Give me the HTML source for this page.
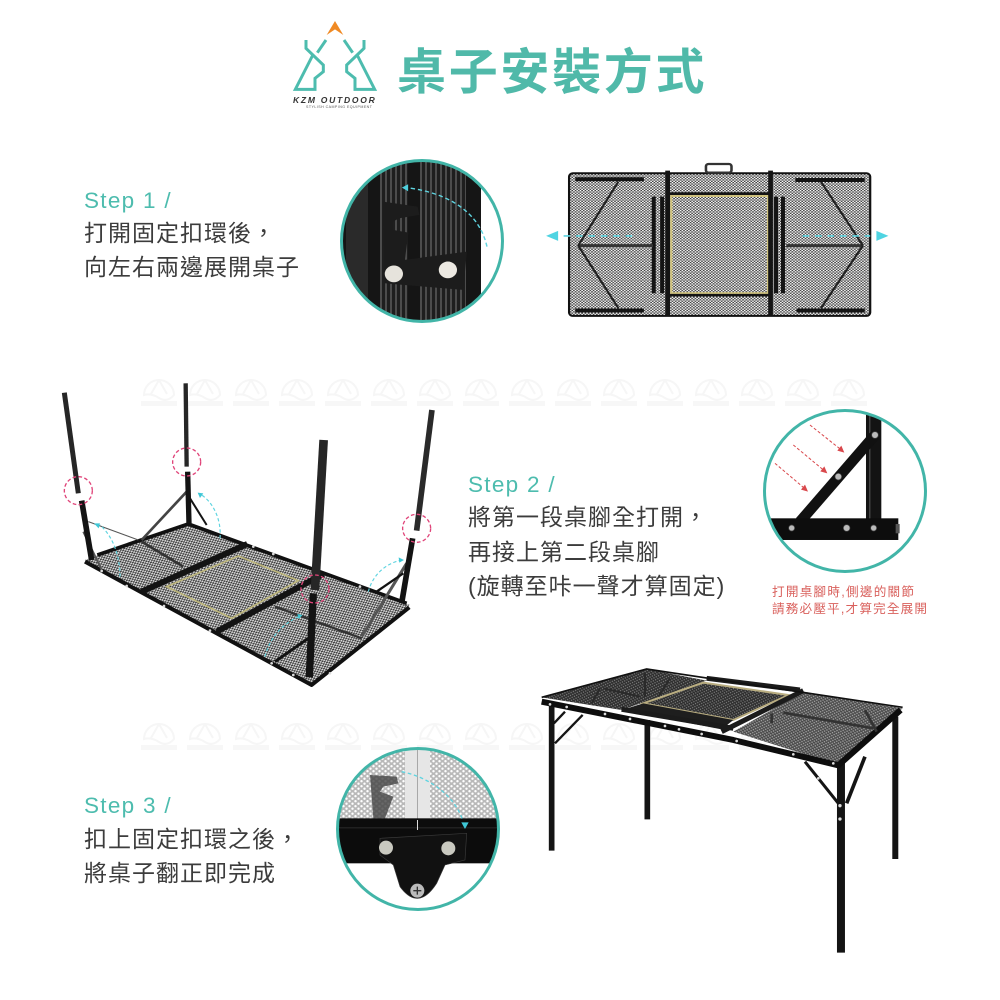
<!DOCTYPE html>
<html lang="zh-Hant"><head><meta charset="utf-8">
<style>
html,body{margin:0;padding:0;background:#fff;width:1000px;height:1000px;overflow:hidden}
svg{display:block}
.t{font-family:"Liberation Sans","Noto Sans CJK TC",sans-serif;font-size:23px;letter-spacing:1px;fill:#3c3c3c}
.s{font-family:"Liberation Sans","Noto Sans CJK TC",sans-serif;font-size:22.5px;letter-spacing:1.3px;fill:#4dbcae}
.r{font-family:"Liberation Sans","Noto Sans CJK TC",sans-serif;font-size:12.6px;fill:#d9605c}
</style></head><body>
<svg width="1000" height="1000" viewBox="0 0 1000 1000" xmlns="http://www.w3.org/2000/svg">
<defs>
<pattern id="m1" width="9" height="8" patternUnits="userSpaceOnUse"><rect width="9" height="8" fill="#3a3a3a"/><circle cx="2.2" cy="2" r="2.5" fill="#fff"/><circle cx="6.7" cy="6" r="2.5" fill="#fff"/></pattern>
<pattern id="m2" width="11" height="9" patternUnits="userSpaceOnUse" patternTransform="rotate(-25)"><rect width="11" height="9" fill="#333"/><circle cx="3" cy="2.2" r="3" fill="#dcdcdc"/><circle cx="8.5" cy="6.7" r="3" fill="#dcdcdc"/></pattern>
<pattern id="m3" width="12" height="9" patternUnits="userSpaceOnUse" patternTransform="rotate(12)"><rect width="12" height="9" fill="#2e2e2e"/><circle cx="3" cy="2.2" r="1.9" fill="#8a8a8a"/><circle cx="9" cy="6.7" r="1.9" fill="#8a8a8a"/></pattern>
<pattern id="m4" width="12" height="9" patternUnits="userSpaceOnUse" patternTransform="rotate(12)"><rect width="12" height="9" fill="#4a4a4a"/><circle cx="3" cy="2.2" r="2.2" fill="#a8a8a8"/><circle cx="9" cy="6.7" r="2.2" fill="#a8a8a8"/></pattern>
<pattern id="m5" width="18" height="15" patternUnits="userSpaceOnUse"><rect width="18" height="15" fill="#b9b9b9"/><circle cx="4.5" cy="3.7" r="3.6" fill="#fff"/><circle cx="13.5" cy="11.2" r="3.6" fill="#fff"/></pattern>
<pattern id="rib" width="5" height="10" patternUnits="userSpaceOnUse"><rect width="5" height="10" fill="#1e1e1e"/><rect width="2" height="10" fill="#4c4c4c"/></pattern>
<clipPath id="c1"><circle cx="422" cy="241" r="80"/></clipPath>
<clipPath id="c2"><circle cx="845" cy="491" r="80"/></clipPath>
<clipPath id="c3"><circle cx="418" cy="829" r="80"/></clipPath>
<g id="wm" fill="none" stroke="#f6f6f6" stroke-width="2"><path d="M3,17 a13,13 0 1 1 30,0 q-7,8 -15,3 q-8,-5 -15,-3z"/><path d="M18,2 L10,16 M18,2 L26,16"/><rect x="0" y="23" width="36" height="5" fill="#f7f7f7" stroke="none"/></g>
</defs>

<!-- watermarks -->
<g>
<use href="#wm" x="141" y="378"/><use href="#wm" x="187" y="378"/><use href="#wm" x="233" y="378"/><use href="#wm" x="279" y="378"/><use href="#wm" x="325" y="378"/><use href="#wm" x="371" y="378"/><use href="#wm" x="417" y="378"/><use href="#wm" x="463" y="378"/><use href="#wm" x="509" y="378"/><use href="#wm" x="555" y="378"/><use href="#wm" x="601" y="378"/><use href="#wm" x="647" y="378"/><use href="#wm" x="693" y="378"/><use href="#wm" x="739" y="378"/><use href="#wm" x="785" y="378"/><use href="#wm" x="831" y="378"/>
<use href="#wm" x="141" y="722"/><use href="#wm" x="187" y="722"/><use href="#wm" x="233" y="722"/><use href="#wm" x="279" y="722"/><use href="#wm" x="325" y="722"/><use href="#wm" x="371" y="722"/><use href="#wm" x="417" y="722"/><use href="#wm" x="463" y="722"/><use href="#wm" x="509" y="722"/><use href="#wm" x="555" y="722"/><use href="#wm" x="601" y="722"/><use href="#wm" x="647" y="722"/><use href="#wm" x="693" y="722"/><use href="#wm" x="739" y="722"/><use href="#wm" x="785" y="722"/>
</g>

<!-- logo + title -->
<g transform="translate(280,10) scale(.3333)">
<polygon points="165,33 190,75 165,58 140,75" fill="#f08a24"/>
<g fill="none" stroke="#4dbcae" stroke-width="9" stroke-linejoin="miter">
<path d="M100,132 L46,238 L105,238 L105,205 L130,185 L130,165 L78,115 L78,90"/>
<path d="M138,90 L112,128"/>
<path d="M230,132 L284,238 L225,238 L225,205 L200,185 L200,165 L252,115 L252,90"/>
<path d="M192,90 L218,128"/>
</g>
</g>
<text x="293" y="103" font-family="Liberation Sans,sans-serif" font-size="8.5" font-weight="bold" font-style="italic" letter-spacing="1.75" fill="#333">KZM OUTDOOR</text>
<text x="306" y="108" font-family="Liberation Sans,sans-serif" font-size="3.6" letter-spacing=".45" fill="#555">STYLISH CAMPING EQUIPMENT</text>
<text x="397" y="89" font-family="'Noto Sans CJK TC',sans-serif" font-weight="bold" font-size="49" letter-spacing="2.7" fill="#50b9a9">桌子安裝方式</text>

<!-- step text -->
<text class="s" x="84" y="208">Step 1 /</text>
<text class="t" x="84" y="241">打開固定扣環後，</text>
<text class="t" x="84" y="275">向左右兩邊展開桌子</text>
<text class="s" x="468" y="492">Step 2 /</text>
<text class="t" x="468" y="525">將第一段桌腳全打開，</text>
<text class="t" x="468" y="560">再接上第二段桌腳</text>
<text class="t" x="468" y="594">(旋轉至咔一聲才算固定)</text>
<text class="s" x="84" y="813">Step 3 /</text>
<text class="t" x="84" y="847">扣上固定扣環之後，</text>
<text class="t" x="84" y="881">將桌子翻正即完成</text>
<text class="r" x="772" y="596" textLength="142">打開桌腳時,側邊的關節</text>
<text class="r" x="772" y="613" textLength="155">請務必壓平,才算完全展開</text>

<!-- circle 1 -->
<g clip-path="url(#c1)">
<rect x="341" y="160" width="140" height="162" fill="#151515"/>
<rect x="380" y="160" width="28" height="162" fill="url(#rib)"/>
<rect x="420" y="160" width="46" height="162" fill="url(#rib)"/>
<rect x="346" y="160" width="22" height="162" fill="#2a2a2a"/>
<g transform="translate(330,150) scale(.365,.333)">
<path d="M145,155 L240,170 245,195 190,205 172,215 172,240 215,248 205,330 375,305 365,420 L200,405 150,400z" fill="#1c1c1c"/>
<circle cx="175" cy="372" r="25" fill="#e6e3dc"/><circle cx="323" cy="360" r="25" fill="#ece9e2"/>
<path d="M430,290 C410,190 330,130 210,113" fill="none" stroke="#5fd4e0" stroke-width="4" stroke-dasharray="12 8"/>
<polygon points="197,113 214,103 214,124" fill="#4fd0de"/>
</g>
</g>
<circle cx="422" cy="241" r="80.5" fill="none" stroke="#42b5a8" stroke-width="3"/>

<!-- top view table -->
<g transform="translate(330,150) scale(.365,.333)">
<rect x="655" y="70" width="825" height="428" rx="10" fill="url(#m1)" stroke="#111" stroke-width="6"/>
<rect x="1030" y="42" width="70" height="26" rx="7" fill="none" stroke="#333" stroke-width="7"/>
<rect x="935" y="138" width="265" height="292" fill="url(#m1)" stroke="#cfc27e" stroke-width="6"/>
<g stroke="#141414" fill="none">
<path d="M925,62 V500 M1207,62 V500" stroke-width="13"/>
<path d="M925,131 H1207 M925,436 H1207" stroke-width="8"/>
<path d="M887,140 V430 M910,140 V430 M1222,140 V430 M1241,140 V430" stroke-width="11"/>
<path d="M680,287 H885 M1250,287 H1460" stroke-width="9" stroke="#333"/>
<path d="M680,287 L790,95 M680,287 L790,475 M1460,287 L1345,95 M1460,287 L1345,475" stroke-width="6" stroke="#222"/>
<path d="M672,88 H860 M1275,90 H1465 M672,482 H860 M1278,482 H1465" stroke-width="12"/>
</g>
<path d="M640,258 H830 M1295,258 H1480" stroke="#5fd4e0" stroke-width="5" stroke-dasharray="18 16"/>
<polygon points="592,258 625,243 625,273" fill="#4fd4e2"/>
<polygon points="1530,258 1497,243 1497,273" fill="#4fd4e2"/>
</g>

<!-- flipped table -->
<g transform="translate(40,370) scale(.3333)">
<polygon points="135,570 445,458 1110,705 815,950" fill="url(#m2)"/>
<polygon points="380,650 595,558 775,632 575,745" fill="url(#m2)" stroke="#bdb67c" stroke-width="5"/>
<path d="M135,575 L815,945 L1108,712" fill="none" stroke="#111" stroke-width="12" stroke-linejoin="round"/>
<path d="M172,555 L445,462 L1100,700" fill="none" stroke="#111" stroke-width="11"/>
<g stroke="#131313" fill="none">
<path d="M305,665 L622,522" stroke-width="18"/>
<path d="M530,785 L850,612" stroke-width="18"/>
<path d="M305,515 L430,590" stroke-width="8" stroke="#333"/>
<path d="M705,710 L965,805" stroke-width="7" stroke="#333"/>
<path d="M705,875 L805,805" stroke-width="9"/>
<path d="M305,510 L440,365" stroke-width="8" stroke="#444"/>
<path d="M450,385 L500,465" stroke-width="6"/>
<path d="M145,455 L295,510" stroke-width="3" stroke="#555"/>
<path d="M130,485 L185,600" stroke-width="6" stroke="#555"/>
<path d="M965,800 L1100,580" stroke-width="9" stroke="#555"/>
<path d="M1010,665 L1090,610" stroke-width="7"/>
<path d="M73,68 L115,370" stroke-width="15" stroke="#262626"/>
<path d="M125,392 L155,570" stroke-width="17"/>
<path d="M437,40 L440,290" stroke-width="13" stroke="#262626"/>
<path d="M443,305 L447,460" stroke-width="16"/>
<path d="M851,210 L825,660" stroke-width="26" stroke="#262626"/>
<path d="M820,670 L808,922" stroke-width="22"/>
<path d="M1176,120 L1130,482" stroke-width="17" stroke="#2a2a2a"/>
<path d="M1118,505 L1085,700" stroke-width="17"/>
</g>
<g fill="#ddd"><circle cx="185" cy="603" r="4"/><circle cx="260" cy="648" r="4"/><circle cx="372" cy="708" r="4"/><circle cx="510" cy="782" r="4"/><circle cx="695" cy="880" r="4"/><circle cx="760" cy="915" r="4"/><circle cx="870" cy="910" r="4"/><circle cx="640" cy="530" r="4"/><circle cx="700" cy="552" r="4"/><circle cx="960" cy="650" r="4"/></g>
<g fill="none" stroke="#e0457a" stroke-width="4" stroke-dasharray="11 7">
<circle cx="115" cy="362" r="42"/><circle cx="440" cy="276" r="42"/><circle cx="825" cy="657" r="42"/><circle cx="1130" cy="475" r="42"/>
</g>
<g fill="none" stroke="#5fd4e0" stroke-width="3.5" stroke-dasharray="10 7">
<path d="M240,620 C240,560 220,500 180,465"/>
<path d="M540,505 C545,450 520,395 480,372"/>
<path d="M985,665 C1000,610 1040,580 1085,570"/>
<path d="M675,860 C690,800 730,760 780,738"/>
</g>
<g fill="#3fc7d6"><polygon points="162,460 180,460 176,475"/><polygon points="473,368 490,370 480,384"/><polygon points="1092,570 1076,562 1078,578"/><polygon points="788,735 772,732 776,747"/></g>
</g>

<!-- circle 2 -->
<g clip-path="url(#c2)"><g transform="translate(750,400) scale(.3333)">
<rect x="348" y="35" width="46" height="325" fill="#131313"/>
<rect x="358" y="35" width="3" height="325" fill="#fff" opacity=".3"/>
<path d="M150,365 L375,105" stroke="#111" stroke-width="32"/>
<rect x="40" y="355" width="405" height="65" fill="#0d0d0d"/>
<rect x="437" y="372" width="12" height="28" fill="#555"/>
<g fill="#bbb" stroke="#444" stroke-width="2"><circle cx="375" cy="105" r="10"/><circle cx="265" cy="230" r="10"/><circle cx="125" cy="384" r="9"/><circle cx="290" cy="384" r="10"/><circle cx="371" cy="384" r="9"/></g>
<g stroke="#d9484c" stroke-width="3" stroke-dasharray="9 6" fill="none"><path d="M180,75 L268,145"/><path d="M130,135 L218,208"/><path d="M75,190 L160,262"/></g>
<g fill="#d9484c"><polygon points="283,158 262,152 274,137"/><polygon points="232,220 211,214 223,199"/><polygon points="174,275 153,269 165,254"/></g>
</g></g>
<circle cx="845" cy="491" r="80.5" fill="none" stroke="#42b5a8" stroke-width="3"/>

<!-- standing table -->
<g transform="translate(530,660) scale(.3333)">
<g stroke="#141414" fill="none">
<path d="M65,130 V572" stroke-width="17"/>
<path d="M352,180 V478" stroke-width="17"/>
<path d="M1096,170 V597" stroke-width="18"/>
<path d="M933,310 V878" stroke-width="24"/>
<path d="M75,250 L158,165 M72,190 L105,155" stroke-width="7"/>
<path d="M825,305 L925,430" stroke-width="9"/>
<path d="M950,430 L1005,290" stroke-width="11"/>
</g>
<polygon points="35,112 350,27 530,62 275,150" fill="url(#m3)"/>
<polygon points="520,68 775,105 610,180 340,130" fill="url(#m3)" stroke="#b9ad80" stroke-width="6"/>
<polygon points="820,95 1118,145 925,315 610,215" fill="url(#m4)"/>
<polygon points="275,150 340,130 610,180 575,208" fill="#1e1e1e"/>
<path d="M275,148 L610,205 M575,215 L820,92 M530,55 L810,90" stroke="#1b1b1b" stroke-width="15" fill="none"/>
<path d="M35,125 L610,240 L925,316 L1112,150" stroke="#0d0d0d" stroke-width="18" fill="none" stroke-linejoin="round"/>
<path d="M35,112 L350,27 L1118,142" stroke="#111" stroke-width="5" fill="none"/>
<path d="M760,158 L1030,205 M1005,150 L1040,215 M725,160 V190" stroke="#333" stroke-width="8" fill="none"/>
<path d="M210,85 L185,130 M345,40 V110 M420,55 L385,110 M220,85 L330,110" stroke="#2a2a2a" stroke-width="6" fill="none"/>
<g fill="#ddd"><circle cx="60" cy="133" r="4"/><circle cx="110" cy="141" r="4"/><circle cx="225" cy="162" r="4"/><circle cx="300" cy="177" r="4"/><circle cx="405" cy="198" r="4"/><circle cx="447" cy="208" r="4"/><circle cx="515" cy="222" r="4"/><circle cx="620" cy="243" r="4"/><circle cx="790" cy="283" r="4"/><circle cx="910" cy="310" r="4"/><circle cx="930" cy="437" r="5"/><circle cx="930" cy="477" r="5"/><circle cx="865" cy="355" r="4"/></g>
</g>

<!-- circle 3 -->
<g clip-path="url(#c3)"><g transform="translate(330,740) scale(.3333)">
<rect x="20" y="20" width="500" height="220" fill="url(#m5)"/>
<rect x="225" y="20" width="75" height="220" fill="#e6e6e6"/>
<rect x="261" y="20" width="2" height="220" fill="#888"/>
<path d="M120,105 L200,110 205,130 160,140 150,155 190,170 165,235 H130z" fill="#444" opacity=".8"/>
<rect x="20" y="235" width="500" height="135" fill="#0c0c0c"/>
<rect x="20" y="262" width="500" height="3" fill="#2a2a2a"/>
<rect x="261" y="240" width="3" height="30" fill="#ddd"/>
<path d="M150,295 L410,280 405,360 L345,375 L320,430 Q265,515 210,440 L190,375 L150,345z" fill="#111" stroke="#3a3a3a" stroke-width="2"/>
<circle cx="168" cy="323" r="21" fill="#c9c9c0"/><circle cx="355" cy="325" r="21" fill="#c9c9c0"/>
<circle cx="262" cy="452" r="21" fill="#bbb"/><path d="M250,452 H274 M262,440 V464" stroke="#333" stroke-width="4"/>
<path d="M215,95 C290,110 370,160 398,240" fill="none" stroke="#5fd4e0" stroke-width="4" stroke-dasharray="11 8"/>
<polygon points="405,267 394,247 416,247" fill="#3fc7d6"/>
</g></g>
<circle cx="418" cy="829" r="80.5" fill="none" stroke="#42b5a8" stroke-width="3"/>
</svg>
</body></html>
